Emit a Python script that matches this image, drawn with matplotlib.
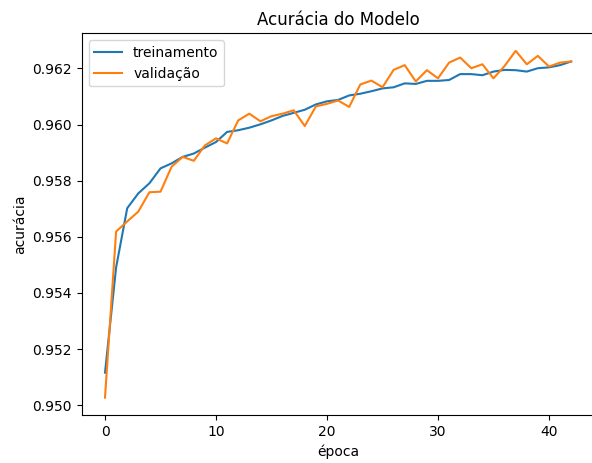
import numpy as np
import matplotlib
matplotlib.use('Agg')
import matplotlib.pyplot as plt

# --------------------------------------------------------------------
# -- donnees
# --------------------------------------------------------------------
epocas = np.arange(43)

treinamento = [0.95116, 0.95491, 0.95702, 0.95755, 0.95791, 0.95844,
               0.95862, 0.95885, 0.95897, 0.95918, 0.95938, 0.95974,
               0.95980, 0.95989, 0.96001, 0.96015, 0.96031, 0.96042,
               0.96053, 0.96072, 0.96083, 0.96088, 0.96104, 0.96110,
               0.96119, 0.96129, 0.96133, 0.96147, 0.96145, 0.96156,
               0.96156, 0.96159, 0.96180, 0.96180, 0.96176, 0.96189,
               0.96195, 0.96194, 0.96189, 0.96201, 0.96204, 0.96212,
               0.96225]

validacao = [0.95027, 0.95619, 0.95655, 0.95690, 0.95759, 0.95761,
             0.95850, 0.95885, 0.95871, 0.95926, 0.95951, 0.95933,
             0.96015, 0.96039, 0.96012, 0.96030, 0.96039, 0.96051,
             0.95995, 0.96065, 0.96074, 0.96086, 0.96063, 0.96143,
             0.96157, 0.96133, 0.96195, 0.96212, 0.96154, 0.96194,
             0.96165, 0.96221, 0.96239, 0.96201, 0.96215, 0.96165,
             0.96209, 0.96263, 0.96215, 0.96245, 0.96207, 0.96221,
             0.96225]

# --------------------------------------------------------------------
# -- graphique
# --------------------------------------------------------------------
fig = plt.figure(figsize=(5.92, 4.63), dpi=100)
ax = fig.add_axes([0.138, 0.1037, 0.8662, 0.824])

ax.plot(epocas, treinamento, label='treinamento')
ax.plot(epocas, validacao, label='validação')
ax.set_title('Acurácia do Modelo')
ax.set_xlabel('época')
ax.set_ylabel('acurácia')
ax.legend(loc='upper left')

fig.savefig('out.png', dpi=100)
